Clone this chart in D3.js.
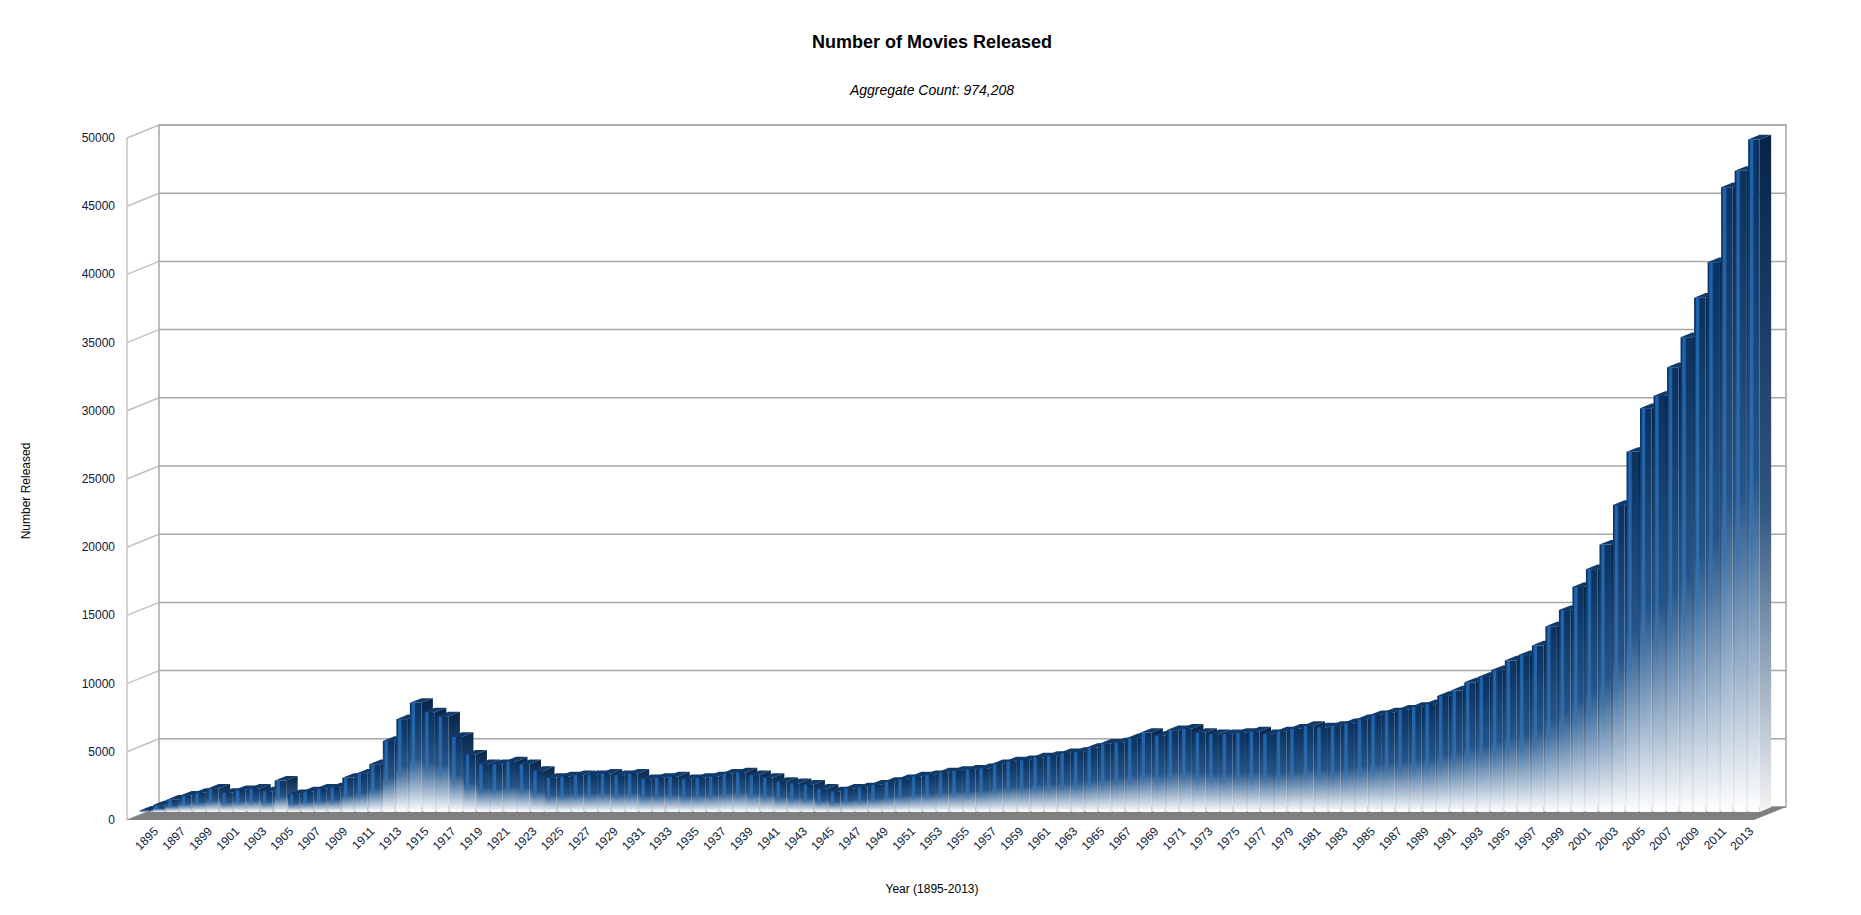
<!DOCTYPE html>
<html><head><meta charset="utf-8">
<script src="https://cdn.jsdelivr.net/npm/d3@7"></script>
<style>body{margin:0;background:#fff}text{font-family:"Liberation Sans",Arial,sans-serif}</style>
</head><body><svg id="c" width="1861" height="915"></svg>
<script>
const years = d3.range(1895, 2015);
const counts = [100,500,900,1200,1400,1700,1400,1600,1700,1500,2300,1300,1500,1700,1800,2500,2800,3500,5200,6800,8000,7300,7000,5500,4200,3500,3500,3700,3500,3000,2500,2600,2700,2700,2800,2700,2800,2400,2500,2600,2400,2500,2600,2800,2900,2700,2500,2200,2100,2000,1700,1500,1700,1800,2000,2200,2400,2600,2700,2900,3000,3100,3200,3500,3700,3800,4000,4100,4300,4400,4700,5000,5100,5400,5800,5600,6000,6100,5800,5700,5700,5800,5900,5700,5900,6100,6300,6200,6300,6500,6800,7100,7300,7500,7700,7900,8500,8900,9500,9900,10400,11100,11500,12200,13600,14800,16500,17800,19600,22500,26400,29600,30500,32600,34800,37700,40300,45800,47000,49300];
const yTicks = d3.range(0, 50001, 5000);
const xLabels = years.filter((y,i)=>i%2===0 && y<=2013);

const svg = d3.select("#c");
const X0=127, Y0=820, W=1627, H=682, DX=32, DY=-13;
const y = d3.scaleLinear().domain([0,50000]).range([0,H]);
const F=0.62, FD=0.36;
const ddx=DX*FD, ddy=DY*FD, base=Y0+DY*F;
const x = d3.scaleBand().domain(years).range([X0+DX*F-8, X0+W+DX*F-ddx-2]).paddingInner(0.15).paddingOuter(0.05);

svg.append("text").attr("x",932).attr("y",48).attr("text-anchor","middle").attr("font-size",18).attr("font-weight","bold").text("Number of Movies Released");
svg.append("text").attr("x",932).attr("y",95).attr("text-anchor","middle").attr("font-size",14).attr("font-style","italic").text("Aggregate Count: 974,208");

const g = svg.append("g");
g.append("rect").attr("x",X0+DX).attr("y",Y0+DY-H).attr("width",W).attr("height",H).attr("fill","none").attr("stroke","#a6a6a6").attr("stroke-width",1.5);
g.append("line").attr("x1",X0).attr("y1",Y0).attr("x2",X0).attr("y2",Y0-H).attr("stroke","#a6a6a6");
yTicks.forEach(t=>{
  const yy=Y0-y(t);
  g.append("line").attr("x1",X0+DX).attr("x2",X0+DX+W).attr("y1",yy+DY).attr("y2",yy+DY).attr("stroke","#a6a6a6").attr("stroke-width",1.5);
  g.append("line").attr("x1",X0).attr("x2",X0+DX).attr("y1",yy).attr("y2",yy+DY).attr("stroke","#c0c0c0").attr("stroke-width",1.5);
  g.append("text").attr("x",X0-12).attr("y",yy+4).attr("text-anchor","end").attr("font-size",12).attr("fill","#0a1a3a").text(t);
});
g.append("path").attr("d",`M${X0},${Y0}L${X0+W},${Y0}L${X0+W+DX},${Y0+DY}L${X0+DX},${Y0+DY}Z`).attr("fill","#7f7f7f");

const defs = svg.append("defs");
function grad(id, stops){
  const gr=defs.append("linearGradient").attr("id",id).attr("x1",0).attr("y1",0).attr("x2",0).attr("y2",1);
  stops.forEach(s=>gr.append("stop").attr("offset",s[0]).attr("stop-color",s[1]).attr("stop-opacity",s[2]==null?1:s[2]));
}
grad("gf",[[0,"#0a3160"],[0.5,"#24558a"],[1,"#ffffff"]]);
grad("gh",[[0,"#1d62aa"],[0.6,"#3a74b0",0.8],[1,"#ffffff",0]]);
grad("gs",[[0,"#062448"],[0.55,"#30557e"],[1,"#f4f4f4"]]);

const bars = svg.append("g");
years.forEach((yr,i)=>{
  const v=counts[i], bx=x(yr), bw=x.bandwidth(), top=base-y(v);
  bars.append("path").attr("d",`M${bx+bw},${base}L${bx+bw},${top}L${bx+bw+ddx},${top+ddy}L${bx+bw+ddx},${base+ddy}Z`).attr("fill","url(#gs)");
  bars.append("path").attr("d",`M${bx},${top}L${bx+bw},${top}L${bx+bw+ddx},${top+ddy}L${bx+ddx},${top+ddy}Z`).attr("fill","#0f3a6a");
  bars.append("rect").attr("x",bx).attr("y",top).attr("width",bw).attr("height",base-top).attr("fill","url(#gf)");
  bars.append("rect").attr("x",bx+bw*0.15).attr("y",top).attr("width",bw*0.3).attr("height",base-top).attr("fill","url(#gh)");
});

xLabels.forEach(yr=>{
  const ex=x(yr)+x.bandwidth()+8;
  svg.append("text").attr("transform",`translate(${ex},${Y0+12}) rotate(-45)`).attr("text-anchor","end").attr("font-size",12).attr("fill","#0a1a3a").text(yr);
});
svg.append("text").attr("x",932).attr("y",893).attr("text-anchor","middle").attr("font-size",12).text("Year (1895-2013)");
svg.append("text").attr("transform","translate(30,491) rotate(-90)").attr("text-anchor","middle").attr("font-size",12).text("Number Released");
</script></body></html>
